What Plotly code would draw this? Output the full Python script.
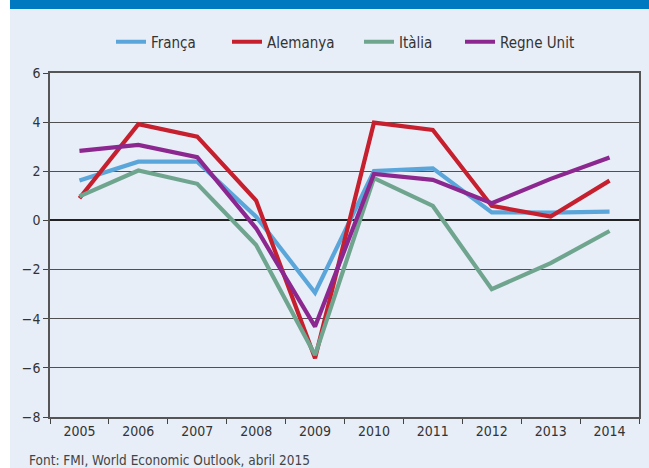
import plotly.graph_objects as go

years = ["2005", "2006", "2007", "2008", "2009", "2010", "2011", "2012", "2013", "2014"]
franca = [1.62, 2.39, 2.39, 0.15, -2.94, 2.01, 2.12, 0.33, 0.32, 0.36]
alemanya = [0.90, 3.92, 3.41, 0.81, -5.61, 3.98, 3.68, 0.59, 0.16, 1.62]
italia = [0.98, 2.03, 1.49, -1.00, -5.48, 1.72, 0.59, -2.80, -1.74, -0.43]
regne_unit = [2.83, 3.07, 2.57, -0.32, -4.32, 1.89, 1.65, 0.70, 1.69, 2.56]
series_names = ["França", "Alemanya", "Itàlia", "Regne Unit"]
colors = ["#5AA6DA", "#C61F2E", "#6FA58E", "#8C2790"]
y_ticks = [-8, -6, -4, -2, 0, 2, 4, 6]

FONT = "DejaVu Sans Condensed, Liberation Sans Narrow, sans-serif"

W, H = 649, 468
L, R, T, B = 50, 10, 73, 51
PW, PH = W - L - R, H - T - B

def px_x(x):
    return (x - L) / PW

def px_y(y):
    return (H - B - y) / PH

legend_names = ["legend", "legend2", "legend3", "legend4"]
legend_line_starts = [117, 233, 365, 466]

fig = go.Figure()
for name, vals, col, lg in zip(series_names, [franca, alemanya, italia, regne_unit], colors, legend_names):
    fig.add_trace(go.Scatter(x=years, y=vals, name=name, mode="lines", legend=lg,
                             line=dict(color=col, width=4.2)))

legend_layout = {}
for lg, xs in zip(legend_names, legend_line_starts):
    legend_layout[lg] = dict(x=px_x(xs - 6), xanchor="left", y=px_y(42), yanchor="middle",
                             orientation="h", font=dict(size=15, color="#333333"),
                             bgcolor="rgba(0,0,0,0)", borderwidth=0)

fig.update_layout(
    width=W, height=H,
    margin=dict(l=L, r=R, t=T, b=B, autoexpand=False),
    paper_bgcolor="white",
    plot_bgcolor="rgba(0,0,0,0)",
    font=dict(family=FONT, size=14, color="#333333"),
    showlegend=True,
    shapes=[
        dict(type="rect", xref="paper", yref="paper", x0=px_x(10), x1=px_x(W),
             y0=px_y(H), y1=px_y(9), fillcolor="#E7EEF8", line=dict(width=0),
             layer="below"),
        dict(type="rect", xref="paper", yref="paper", x0=px_x(10), x1=px_x(W),
             y0=px_y(9), y1=px_y(0), fillcolor="#0079C1", line=dict(width=0),
             layer="below"),
    ],
    annotations=[
        dict(text="Font: FMI, World Economic Outlook, abril 2015", xref="paper", yref="paper",
             x=px_x(27), y=px_y(460), xanchor="left", yanchor="middle", showarrow=False,
             font=dict(size=13.5, color="#444444", family=FONT)),
    ],
    **legend_layout,
)

fig.update_xaxes(
    type="category", range=[-0.5, 9.5], automargin=False,
    showgrid=False, tickson="boundaries", ticks="outside", ticklen=5,
    tickcolor="#444444", showline=True, linecolor="#555555", linewidth=1.5,
    mirror=True, tickfont=dict(size=14, color="#333333"),
)
fig.update_yaxes(
    range=[-8, 6], tickvals=y_ticks, automargin=False,
    showgrid=True, gridcolor="#505050", gridwidth=1.3,
    zeroline=True, zerolinecolor="#222222", zerolinewidth=2,
    ticks="outside", ticklen=5, tickcolor="#444444",
    showline=True, linecolor="#555555", linewidth=1.5, mirror=True,
    tickfont=dict(size=14, color="#333333"),
)

fig.write_html("out.html", config={"displayModeBar": False},
               post_script="document.body.style.margin='0';document.body.style.overflow='hidden';")
